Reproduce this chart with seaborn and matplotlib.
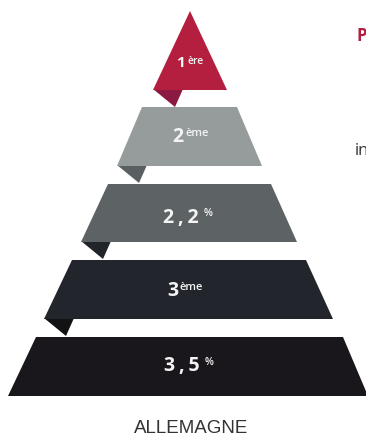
import numpy as np
import matplotlib
matplotlib.use("Agg")
import matplotlib.pyplot as plt
import seaborn as sns

# data: rank / value shown on each tier (top -> bottom)
main_labels = ["1", "2", "2\u2009,\u20092", "3", "3\u2009,\u20095"]
sup_labels = ["ère", "ème", "%", "ème", "%"]
country = "ALLEMAGNE"

tier_colors = ["#B41F40", "#969C9C", "#5D6364", "#22252B", "#19171B"]
fold_colors = ["#8B1A42", "#5A6062", "#212429", "#121215", None]

# layout of the tiers in pixel units
y_top = [11, 107, 184, 260, 337]
y_bot = [90, 166, 242, 319, 396]
top_l = [190, 142, 108, 72, 36]
top_r = [190, 237, 271, 306, 343]
bot_l = [153, 117, 81, 44, 8]
bot_r = [227, 262, 297, 333, 368]

# text anchors (right edge of the main label, baselines)
main_x = [185, 183, 199, 178, 200]
main_y = [67, 142, 223, 296, 371]
main_size = [11, 14, 14, 14, 14]
sup_y = [64, 136, 216, 290, 365]
sup_size = [7.5, 8, 7.5, 8, 7.5]

sns.set_theme(style="white")
plt.rcParams["font.family"] = ["Open Sans", "DejaVu Sans"]

fig = plt.figure(figsize=(3.66, 4.37), dpi=100)
ax = fig.add_axes([0, 0, 1, 1])
ax.set_xlim(0, 366)
ax.set_ylim(437, 0)
ax.axis("off")

# folds first so the next tier covers them
for i in range(len(tier_colors)):
    if fold_colors[i] is None:
        continue
    x0 = bot_l[i]
    yb = y_bot[i]
    ax.fill([x0, x0 + 30, x0 + 22, x0], [yb - 1, yb - 1, yb + 17, yb - 1],
            color=fold_colors[i], lw=0)

for i in range(len(tier_colors)):
    xs = [top_l[i], top_r[i], bot_r[i], bot_l[i]]
    ys = [y_top[i], y_top[i], y_bot[i], y_bot[i]]
    ax.fill(xs, ys, color=tier_colors[i], lw=0, zorder=2)

    ax.text(main_x[i], main_y[i], main_labels[i], ha="right", va="baseline",
            color="#F4F4F4", fontsize=main_size[i], fontweight="bold", zorder=3)
    gap = 5 if sup_labels[i] == "%" else 2
    ax.text(main_x[i] + gap, sup_y[i], sup_labels[i], ha="left", va="baseline",
            color="#F4F4F4", fontsize=sup_size[i], fontweight="semibold", zorder=3)

ax.text(191, 433, country, ha="center", va="baseline", color="#333333",
        fontsize=13.5, family=["Liberation Sans", "DejaVu Sans"])

# cut-off text of the neighbouring panel
ax.text(356, 41, "P", ha="left", va="baseline", color="#B41F40",
        fontsize=12, fontweight="bold")
ax.text(355, 155, "in", ha="left", va="baseline", color="#333333",
        fontsize=12)

fig.savefig("out.png", dpi=100)
